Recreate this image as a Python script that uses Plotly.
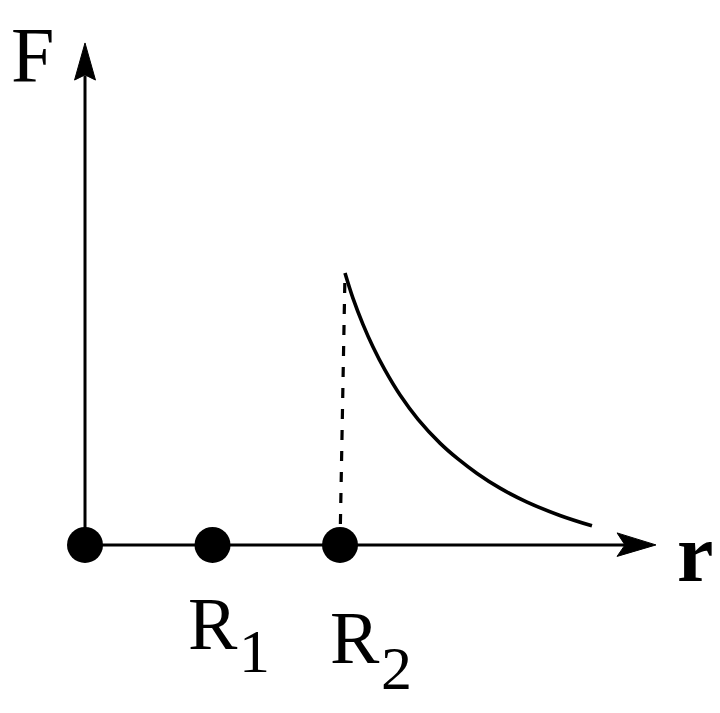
import plotly.graph_objects as go

# Positions along r (in units of the marked radii)
point_r = [0.0, 1.0, 2.0]
point_F = [0.0, 0.0, 0.0]

# Decaying force curve beyond R2
curve_r = [2.039, 2.102, 2.180, 2.259, 2.353, 2.471, 2.612, 2.784,
           2.925, 3.075, 3.255, 3.467, 3.725, 3.976]
curve_F = [0.996, 0.903, 0.808, 0.725, 0.640, 0.549, 0.460, 0.373,
           0.315, 0.262, 0.208, 0.157, 0.108, 0.070]

# Dashed drop line at R2
drop_r = [2.0, 2.039]
drop_F = [0.0, 0.996]

# Axes
yaxis_r = [0.0, 0.0]
yaxis_F = [0.0, 1.72]
xaxis_r = [0.0, 4.24]
xaxis_F = [0.0, 0.0]

# Arrow heads
yhead_r = [0.0, -0.082, 0.0, 0.082, 0.0]
yhead_F = [1.839, 1.703, 1.722, 1.703, 1.839]
xhead_r = [4.478, 4.173, 4.235, 4.173, 4.478]
xhead_F = [0.0, 0.044, 0.0, -0.042, 0.0]

BLACK = "black"
SERIF = "Liberation Serif"

fig = go.Figure()
fig.add_trace(go.Scatter(x=yaxis_r, y=yaxis_F, mode="lines",
                         line=dict(color=BLACK, width=3)))
fig.add_trace(go.Scatter(x=xaxis_r, y=xaxis_F, mode="lines",
                         line=dict(color=BLACK, width=3)))
fig.add_trace(go.Scatter(x=yhead_r, y=yhead_F, mode="lines", fill="toself",
                         fillcolor=BLACK, line=dict(color=BLACK, width=1)))
fig.add_trace(go.Scatter(x=xhead_r, y=xhead_F, mode="lines", fill="toself",
                         fillcolor=BLACK, line=dict(color=BLACK, width=1)))
fig.add_trace(go.Scatter(x=drop_r, y=drop_F, mode="lines",
                         line=dict(color=BLACK, width=3.2, dash="10px,11px")))
fig.add_trace(go.Scatter(x=curve_r, y=curve_F, mode="lines",
                         line=dict(color=BLACK, width=3.6, shape="spline",
                                   smoothing=1)))
fig.add_trace(go.Scatter(x=point_r, y=point_F, mode="markers",
                         marker=dict(color=BLACK, size=36)))

annots = [
    dict(x=-0.590, y=1.960, text="F", size=78, xa="left", ya="top"),
    dict(x=4.784, y=-0.030, text="<b>r</b>", size=82, xa="center", ya="middle"),
    dict(x=1.004, y=-0.290, text="R", size=74, xa="center", ya="middle"),
    dict(x=1.329, y=-0.390, text="1", size=62, xa="center", ya="middle"),
    dict(x=2.114, y=-0.340, text="R", size=74, xa="center", ya="middle"),
    dict(x=2.443, y=-0.450, text="2", size=62, xa="center", ya="middle"),
]
for a in annots:
    fig.add_annotation(x=a["x"], y=a["y"], text=a["text"], showarrow=False,
                       xref="x", yref="y", xanchor=a["xa"],
                       yanchor=a["ya"], borderpad=0,
                       font=dict(family=SERIF, size=a["size"], color=BLACK))

fig.update_layout(
    width=720, height=713,
    margin=dict(l=0, r=0, t=0, b=0),
    paper_bgcolor="white", plot_bgcolor="white",
    showlegend=False,
    xaxis=dict(range=[-0.604, 5.043], visible=False, fixedrange=True),
    yaxis=dict(range=[-0.645, 1.967], visible=False, fixedrange=True),
)

fig.write_html("out.html")
